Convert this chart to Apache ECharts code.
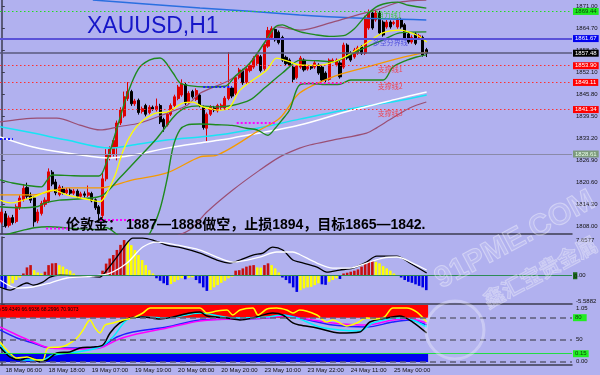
<!DOCTYPE html>
<html>
<head>
<meta charset="utf-8">
<script src="https://cdn.jsdelivr.net/npm/echarts@6/dist/echarts.min.js"></script>
<style>
html,body{margin:0;padding:0;background:#b1b1ef;}
#chart{width:600px;height:375px;}
</style>
</head>
<body>
<div id="chart"></div>
<script>
// ================= DATA =================
const slotCount = 159; // hourly bar slots across the plot width
const timeLabels = ['18 May 06:00','18 May 18:00','19 May 07:00','19 May 19:00','20 May 08:00','20 May 20:00','23 May 10:00','23 May 22:00','24 May 11:00','25 May 00:00'];
const timeLabelIdx = [1,13,25,37,49,61,73,85,97,109];

// candles: [open, close, low, high]
const candles = [
[1809.1,1812.0,1808.5,1813.0],[1811.5,1808.0,1807.5,1812.3],[1808.2,1810.3,1807.6,1811.0],[1810.4,1809.0,1808.4,1811.2],
[1809.3,1813.5,1808.8,1814.2],[1813.2,1816.0,1812.6,1816.8],[1815.6,1818.8,1815.0,1820.0],[1819.0,1816.5,1815.8,1820.4],
[1816.6,1815.4,1814.6,1817.6],[1816.0,1809.2,1807.8,1816.5],[1809.5,1812.0,1808.8,1812.8],[1811.6,1814.5,1811.0,1815.2],
[1814.2,1815.4,1813.5,1816.2],[1815.1,1823.5,1814.6,1824.5],[1823.4,1820.0,1819.4,1824.0],[1820.6,1817.5,1816.8,1821.4],
[1817.0,1819.2,1816.5,1819.8],[1818.6,1817.5,1817.0,1819.4],[1817.5,1818.3,1817.0,1818.9],[1818.3,1817.4,1816.9,1818.8],
[1817.4,1818.0,1816.9,1818.6],[1818.0,1816.5,1816.0,1818.5],[1816.5,1817.2,1816.0,1817.8],[1817.2,1816.8,1816.2,1817.9],
[1816.8,1817.5,1816.3,1819.6],[1817.3,1815.2,1814.8,1817.8],[1815.5,1813.2,1812.6,1815.9],[1813.5,1811.5,1809.5,1814.0],
[1811.0,1821.5,1810.2,1823.5],[1821.5,1828.5,1820.8,1830.0],[1827.5,1830.0,1826.8,1830.8],[1828.5,1832.5,1827.9,1833.2],
[1830.5,1837.5,1826.8,1838.2],[1837.5,1841.2,1836.9,1842.0],[1839.5,1845.0,1839.0,1846.5],[1844.5,1846.5,1843.8,1849.2],
[1846.5,1843.0,1842.4,1847.0],[1843.0,1843.8,1842.4,1844.4],[1844.0,1840.5,1839.9,1844.5],[1840.8,1841.6,1840.2,1842.2],
[1842.5,1840.0,1839.4,1843.0],[1840.5,1842.0,1840.0,1842.6],[1842.0,1841.5,1841.0,1842.5],[1841.3,1842.3,1840.8,1844.5],
[1842.5,1837.8,1837.2,1843.0],[1838.5,1836.5,1835.0,1839.0],[1837.0,1840.0,1836.5,1840.6],[1840.0,1842.5,1839.5,1843.1],
[1842.5,1845.0,1842.0,1845.6],[1844.5,1847.8,1844.0,1848.4],[1845.5,1848.7,1845.0,1850.0],[1848.5,1843.2,1842.6,1849.0],
[1843.5,1846.0,1843.0,1846.6],[1846.5,1845.0,1844.5,1847.0],[1844.2,1846.8,1843.8,1847.4],[1845.5,1842.5,1842.0,1846.0],
[1842.0,1836.2,1835.6,1842.5],[1836.0,1840.0,1832.3,1840.5],[1840.0,1842.0,1839.5,1842.6],[1841.8,1841.2,1840.6,1842.4],
[1841.0,1842.5,1840.5,1843.0],[1842.0,1842.6,1841.5,1843.1],[1841.8,1844.6,1841.3,1845.2],[1844.5,1847.5,1844.0,1857.8],
[1847.5,1845.2,1844.6,1848.0],[1846.0,1850.5,1845.5,1851.2],[1850.5,1852.7,1850.0,1853.3],[1852.5,1849.0,1848.4,1853.0],
[1849.2,1853.0,1848.7,1853.6],[1852.5,1854.0,1852.0,1854.6],[1853.5,1856.0,1853.0,1856.6],[1854.5,1857.0,1854.0,1857.6],
[1856.5,1852.5,1852.0,1857.0],[1853.0,1860.0,1852.5,1860.6],[1859.5,1864.0,1859.0,1865.0],[1862.0,1864.5,1861.5,1865.2],
[1864.3,1861.3,1860.8,1864.8],[1863.5,1860.5,1860.0,1864.0],[1862.0,1855.5,1855.0,1862.5],[1856.3,1854.5,1854.0,1856.8],
[1855.5,1854.0,1853.5,1856.0],[1853.5,1850.0,1849.0,1854.0],[1850.5,1853.8,1850.0,1854.4],[1853.5,1856.1,1853.0,1856.7],
[1855.5,1852.7,1852.2,1856.0],[1853.0,1853.6,1852.5,1854.2],[1853.6,1853.2,1852.7,1854.1],[1853.5,1854.7,1853.0,1855.3],
[1854.1,1851.8,1851.3,1854.6],[1853.5,1849.8,1849.3,1854.0],[1851.8,1849.8,1849.2,1852.3],[1850.0,1855.5,1849.6,1856.0],
[1855.2,1855.5,1854.7,1856.0],[1854.2,1855.5,1853.7,1856.0],[1854.7,1850.7,1850.2,1855.2],[1853.5,1859.8,1853.0,1860.5],
[1859.8,1856.1,1855.6,1860.3],[1857.5,1855.5,1855.0,1858.0],[1856.4,1858.4,1855.9,1859.0],[1857.5,1859.0,1857.0,1859.6],
[1859.3,1857.5,1857.0,1859.8],[1857.5,1867.6,1857.0,1868.2],[1864.7,1869.0,1864.2,1870.0],[1869.0,1864.7,1864.2,1869.6],
[1867.0,1869.0,1866.5,1869.8],[1869.0,1863.3,1862.8,1869.6],[1866.4,1862.7,1862.2,1866.9],[1865.0,1866.4,1864.5,1867.0],
[1866.4,1865.0,1864.5,1866.9],[1866.0,1866.3,1865.5,1866.8],[1865.0,1867.0,1864.5,1867.6],[1867.0,1865.0,1864.5,1867.5],
[1865.6,1861.8,1861.3,1866.1],[1863.0,1860.7,1860.2,1863.5],[1860.7,1862.0,1860.2,1862.6],[1863.0,1860.3,1859.8,1863.5],
[1861.8,1862.5,1861.3,1863.0],[1862.0,1857.0,1856.5,1862.5],[1858.5,1857.48,1856.4,1859.0]
];

// overlay indicator lines: [barIndex, price]
const bbUpper = [[-0.5,1821.2],[3,1820.3],[7,1819.6],[11,1819.2],[12.5,1821],[14,1822.6],[20,1822.4],[27,1822.3],[29,1826],[32,1836],[35,1846],[38,1853],[41,1855.5],[44,1856.1],[47.6,1851.8],[49.5,1849],[52,1848.2],[57,1847.8],[62,1848],[65,1851],[69,1854.7],[73,1860.5],[76,1865],[78,1865.6],[80,1864.8],[83,1863.6],[87,1862.8],[91,1862.3],[95,1862.5],[98,1864.5],[101,1868],[104,1870.7],[107,1871.8],[110,1872.1],[113,1871.2],[118,1870.4]];
const bbMiddle = [[-0.5,1813.5],[5,1813.2],[10,1813.6],[12,1814.6],[16,1815.4],[22,1815.8],[28,1816.8],[33,1822],[38,1827.5],[43,1833],[48,1839.5],[51,1841.8],[55,1842.4],[60,1842.1],[64,1842.5],[69,1844.1],[73,1847.5],[78,1851.8],[83,1855.5],[88,1855.3],[92,1855],[96.7,1857],[101.4,1859.3],[106,1861.3],[110.6,1863.3],[118,1863.6]];
const bbLower = [[-0.5,1805],[3,1806],[6,1806.8],[9,1807.5],[13,1807.8],[20,1807.3],[27,1807],[29,1807.5],[32,1805.6],[35,1803],[38,1802],[41.2,1806],[43.9,1812.6],[45.9,1821.2],[47.6,1830.6],[49.5,1835.5],[51.4,1836.9],[55,1837.2],[60,1837],[64,1836.8],[68,1836],[71,1835.5],[74,1834],[76,1836],[78,1838.5],[80,1841.2],[82.8,1848.4],[86,1848.8],[90,1848.5],[94,1848.6],[97,1849.8],[106,1849.8],[108.7,1853.5],[112.6,1855.5],[115.3,1856.4],[118,1857]];
const maYellow = [[-0.5,1815.4],[2.3,1814.6],[8.7,1816.3],[14.2,1818.3],[18.1,1816.9],[23,1815.8],[27.3,1815],[29,1817],[31.5,1822.5],[33.7,1829.5],[36.4,1835],[39.2,1838.2],[43.1,1840.4],[45.9,1840.6],[50.3,1843.2],[53.1,1843.5],[55.9,1842.1],[60.6,1841.2],[63.4,1842.1],[66.2,1846.9],[73.7,1852.7],[76.4,1856.1],[80.1,1855],[82.8,1854.1],[88,1854],[94.8,1856.1],[101.4,1860.4],[105.9,1863.3],[110.6,1864.1],[115.3,1862.7],[118.1,1860.7]];
const maOrange = [[-0.5,1816.9],[8.7,1816.9],[18.1,1818.9],[27.3,1818.9],[36.4,1821.2],[45.9,1823.2],[55.1,1827.8],[59.8,1828.3],[71.7,1835.5],[77.3,1838.9],[82.8,1846.1],[92,1850.7],[101.4,1853.5],[110.6,1856.1],[118.1,1857.8]];
const maCyan = [[-0.5,1836.4],[8.7,1834.6],[18.1,1832.6],[30.1,1830.3],[36.4,1831.2],[45.9,1832.6],[55.1,1833.5],[60.6,1834.1],[70,1835.8],[82.8,1838.6],[96.7,1841.5],[110,1843.8],[118.1,1845.5]];
const maWhite = [[-0.5,1833.5],[8.7,1830.6],[18.1,1828.9],[30.1,1827.5],[36.4,1828.3],[45.9,1830.3],[55.1,1831.8],[60.6,1832.6],[64.2,1833.2],[82.8,1836.9],[96.7,1841],[110,1844.4],[118.1,1846.4]];
const envUpper = [[-0.5,1837.8],[9.8,1838.9],[15.3,1838.9],[21.7,1836.9],[27.3,1835.5],[32.8,1836.5],[38.4,1837.5],[46.7,1840.6],[51.4,1842.5],[55.1,1846],[63.4,1849.8],[68,1853.5],[73.7,1861.3],[76.4,1865],[82.8,1864.1],[92,1866.4],[98.7,1868.4],[104.2,1869.9],[110.6,1872.1],[118,1872.7]];
const envLower = [[46.7,1804.6],[52.3,1806.9],[57,1812],[64.2,1818.3],[71.7,1824],[77.3,1827.8],[82.8,1830.3],[85.6,1831.2],[92,1832.6],[101.4,1834.6],[104.2,1836.1],[107.8,1838.4],[113.4,1841.8],[118,1843.5]];
const maBlue = [[25.3,1872.7],[40,1871.6],[55.1,1870.4],[70,1869.4],[82.8,1868.4],[96.7,1867.6],[118,1867]];
// dotted pivot segments: [startIndex, endIndex, price]
const pivotBlue = [[-0.5,3.1,1832.9],[56,64,1847.8]];
const pivotMagenta = [[12.3,19,1807.3],[27.3,38.4,1809.7],[65.3,76.4,1837.5],[82.8,94.8,1848.9]];

// horizontal levels
const levelValues = [1869.44, 1861.67, 1857.48, 1853.90, 1849.11, 1841.34, 1828.61];
const levelNames = ['阻力线1','多空分界线','','支撑线1','支撑线2','支撑线3',''];
const levelNameIdx = [104.2,103.1,0,104.5,104.5,104.5,0];
const priceTicks = [1808.00,1814.30,1820.60,1826.90,1833.20,1839.50,1845.80,1852.10,1858.40,1864.70,1871.00];

// MACD histogram (one value per bar) and lines
const macdHist = [
-2.2,-2.6,-1.85,-1.5,-0.85,-0.35,0.45,1.65,2.1,1.1,0.65,0.45,0.8,2.1,2.45,2.5,2.1,1.8,1.3,1.0,
0.45,0.15,0.05,-0.05,0.05,-0.1,-0.15,-0.1,1.0,2.4,3.4,4.1,5.1,6.1,7.05,6.7,6.05,5.1,4.1,3.1,
2.1,1.1,0.45,-0.5,-1.0,-1.5,-1.85,-1.65,-1.2,-0.85,-0.5,-0.7,-0.4,-0.3,-0.85,-1.5,-2.3,-3.0,-2.8,-2.3,
-1.85,-1.4,-1.0,-0.5,-0.2,1.0,1.1,1.45,1.8,2.0,2.1,1.65,1.6,2.1,2.45,2.1,1.45,0.65,-0.35,-0.85,
-1.5,-2.3,-3.2,-2.85,-2.5,-2.3,-2.2,-1.85,-1.5,-1.7,-1.8,-1.2,-0.85,-0.5,-0.65,0.45,0.6,0.8,1.0,1.25,
1.8,2.45,2.8,2.9,2.75,2.45,1.9,1.45,1.0,0.45,0.15,-0.35,-0.85,-1.2,-1.4,-1.7,-2.0,-2.3,-2.85
];
const macdMain = [[-0.5,-2.23],[2.3,-2.83],[7,-1.44],[8.7,-1.84],[11.4,-1.25],[13.4,-0.26],[16.2,0.14],[22.6,-0.06],[27.3,-0.26],[29.2,1.13],[32,3.7],[34.8,6.46],[36.4,7.45],[39.2,7.45],[42,7.06],[45.9,6.07],[50.3,5.48],[55.1,4.49],[59.8,3.1],[63.4,2.51],[66.2,3.1],[69.8,4.09],[72.6,4.49],[75.3,5.67],[78.1,5.08],[80.9,3.1],[82.8,2.71],[87.6,1.72],[90.3,0.73],[93.9,1.13],[97.6,1.52],[101.4,2.71],[104.2,3.89],[109.8,3.89],[113.4,2.51],[118.1,0.53]];
const macdSignal = [[-0.5,-0.85],[4.2,-2.43],[8.7,-2.23],[13.4,-1.44],[18.1,-0.45],[25.3,-0.06],[30.1,0.53],[34.8,2.51],[39.2,5.67],[43.1,6.66],[48.7,6.07],[55.1,5.08],[59.8,3.7],[64.2,2.71],[71.7,3.7],[76.4,4.69],[80.9,4.69],[82.8,4.2],[87.6,2.51],[92,1.52],[96.7,1.52],[101.4,2.51],[105.9,3.5],[109.8,3.7],[114.2,2.51],[118.1,1.13]];
const macdMin = -5.5882, macdMax = 7.6577;

// oscillator pane lines
const oscYellow = [[-0.5,46.9],[1.4,36],[4.2,25],[7,26.4],[9.8,22.3],[11.4,22.3],[12.8,38.7],[16.2,40],[18.1,42.8],[20.9,52.3],[22.6,63.2],[24.5,76.9],[25.9,66],[27.3,59.2],[28.7,70],[30.9,72.8],[33.7,76.9],[36.4,79.6],[39.2,86.4],[41.2,93.2],[55.1,93.2],[57,86.4],[59.8,89],[62.6,90.5],[64.2,83.7],[66.2,90.5],[69.8,93.2],[71.2,83.7],[73.7,91.8],[76.4,93.2],[79.2,90.5],[80.9,86.4],[82.8,90.5],[87.6,83.7],[90.3,74.1],[92,76.9],[95.9,68.7],[98.7,72.8],[101.4,79.6],[104.2,78.2],[106.4,81],[108.7,93.2],[112.6,93.2],[115.3,87.8],[118.1,74.1]];
const oscBlack = [[-0.5,40],[2.3,26.4],[5.1,22.3],[7.8,26.4],[10.6,19.5],[12.6,22.3],[15.3,31.9],[18.9,33.3],[21.7,38.7],[25.3,40],[28.1,42.8],[30.1,59.2],[32.8,72.8],[35.6,79.6],[39.2,81],[43.9,78.2],[47.6,81],[52.3,86.4],[55.1,87.8],[57,82.3],[62.6,79.6],[66.2,76.9],[69.8,79.6],[75.3,86.4],[78.1,83.7],[80.9,72.8],[82.8,70],[87.6,66],[93.9,59.2],[99.5,60.5],[102.3,74.1],[107,79.6],[110.6,82.3],[114.2,74.1],[118.1,59.2]];
const oscCyan = [[-0.5,42.8],[3.1,25],[7,22.3],[11.4,22.3],[14.2,29.1],[20.9,33.3],[27.3,40],[30.9,53.7],[34.8,76.9],[39.2,81],[45.9,79.6],[55.1,86.4],[64.2,79.6],[73.7,81],[78.1,83.7],[82.8,78.2],[88.4,67.3],[93.9,63.2],[99.5,61.9],[103.1,72.8],[110.6,79.6],[114.2,76.9],[118.1,67.3]];
const oscBlue = [[-0.5,63.2],[4.2,52.3],[8.7,45.5],[13.4,38.7],[22.6,38.7],[27.3,40],[32,53.7],[36.4,60.5],[45.9,67.3],[55.1,76.9],[64.2,78.2],[73.7,79.6],[78.1,83.7],[82.8,79.6],[92,70],[101.4,67.3],[108.7,74.1],[113.4,76.9],[118.1,70]];
const oscMagenta = [[-0.5,67.3],[4.2,56.4],[8.7,46.9],[13.4,38.7],[22.6,37.3],[27.3,38.7],[32,49.6],[36.4,56.4],[45.9,66],[55.1,75.5],[64.2,78.2],[73.7,79.6],[78.1,82.3],[82.8,79.6],[92,72.8],[101.4,70],[108.7,76.9],[113.4,78.2],[118.1,72.8]];
const oscMin = 15.5, oscMax = 97.3;
const oscLevels = [80, 50, 20];
const oscBandHigh = [80, 97.3];
const oscBandLow = [19.5, 30.5];
const oscGreenLevel = 30.9;

// ================= BUILD =================
const FONT = '"Liberation Sans", Arial, sans-serif';
const CJK = '"Noto Sans CJK SC", sans-serif';
const chart = echarts.init(document.getElementById('chart'), null, {renderer:'canvas', width:600, height:375});
const slots = Array.from({length: slotCount}, (_, i) => String(i));
const lastIdx = candles.length - 1;

const gridDefs = [
  {left:0, right:28, top:0, height:234, outerBoundsMode:'none', containLabel:false},
  {left:0, right:28, top:237, height:67, outerBoundsMode:'none', containLabel:false},
  {left:0, right:28, top:305, height:60, outerBoundsMode:'none', containLabel:false}
];
const axisCol = '#3c3c50';
function catAxis(g, withLabels) {
  return {type:'category', gridIndex:g, data:slots, boundaryGap:true,
    axisLine:{show:true, onZero:false, lineStyle:{color:axisCol, width:1.5}},
    axisTick:{show:false}, splitLine:{show:false},
    axisLabel: withLabels ? {show:true, interval:(idx)=>timeLabelIdx.indexOf(idx) >= 0,
      formatter:(v, idx)=>{const k = timeLabelIdx.indexOf(Number(v)); return k >= 0 ? timeLabels[k] : '';},
      align:'left', fontSize:6, color:'#111', margin:2, fontFamily:FONT} : {show:false}};
}
function valAxisX(g) {
  return {type:'value', gridIndex:g, min:-0.5, max:slotCount - 0.5, show:false};
}
const xAxes = [catAxis(0,false), valAxisX(0), catAxis(1,false), valAxisX(1), catAxis(2,true), valAxisX(2)];

const yAxes = [
  {type:'value', gridIndex:0, position:'right', min:1805.707, max:1872.718,
    axisLine:{show:true, lineStyle:{color:axisCol, width:1.5}},
    axisTick:{show:true, length:3, customValues:priceTicks, lineStyle:{color:axisCol}},
    axisLabel:{show:true, customValues:priceTicks, formatter:v=>Number(v).toFixed(2), fontSize:6, color:'#111', margin:4, fontFamily:FONT},
    splitLine:{show:false}},
  {type:'value', gridIndex:1, position:'right', min:macdMin, max:macdMax,
    axisLine:{show:true, lineStyle:{color:axisCol, width:1.5}},
    axisTick:{show:true, length:3, customValues:[macdMin, macdMax], lineStyle:{color:axisCol}},
    axisLabel:{show:true, customValues:[macdMin, macdMax], formatter:v=>Number(v).toFixed(4), fontSize:6, color:'#111', margin:4, fontFamily:FONT,
      verticalAlignMinLabel:'bottom', verticalAlignMaxLabel:'top'},
    splitLine:{show:false}},
  {type:'value', gridIndex:2, position:'right', min:oscMin, max:oscMax,
    axisLine:{show:true, lineStyle:{color:axisCol, width:1.5}},
    axisTick:{show:true, length:3, customValues:[20,50,oscMax], lineStyle:{color:axisCol}},
    axisLabel:{show:true, customValues:[20,50,oscMax], formatter:v=>{v=Number(v); return v===20?'0.00':(v===50?'50':'1.05');}, fontSize:6, color:'#111', margin:4, fontFamily:FONT,
      verticalAlignMaxLabel:'top'},
    splitLine:{show:false}}
];

function lineS(data, color, width, xi, yi, extra) {
  return Object.assign({type:'line', xAxisIndex:xi, yAxisIndex:yi, data:data, symbol:'none', smooth:0.3,
    silent:true, animation:false, lineStyle:{color:color, width:width}, z:3}, extra || {});
}

// level lines
const levelLineColor = ['#22dd22','#5a52d8','#5a5a7c','#ff3030','#ff3030','#ff3030','#8a8aa8'];
const levelLineType = [[1.5,2.5],'solid','solid',[1.5,2.5],[1.5,2.5],[1.5,2.5],'solid'];
const levelLineWidth = [1,2,1.5,1,1,1,1];
const levelBoxColor = ['#1ee81e','#0000ee','#000000','#ff0000','#ff0000','#ff0000','#7d9a7d'];
const levelBoxText = ['#0a3a0a','#ffffff','#ffffff','#ffffff','#ffffff','#ffffff','#e8ffe8'];
const levelNameColor = ['#22c822','#3a3ad8','#000','#ff2a2a','#ff2a2a','#ff2a2a','#000'];
const levelMarks = levelValues.map((v,k)=>({
  yAxis:v,
  lineStyle:{color:levelLineColor[k], type:levelLineType[k], width:levelLineWidth[k]},
  label:{show:true, position:'end', distance:1, formatter:v.toFixed(2), backgroundColor:levelBoxColor[k],
    color:levelBoxText[k], fontSize:6, fontFamily:FONT, padding:[1,2,0,2]}
}));
const levelNameData = [];
levelValues.forEach((v,k)=>{ if (levelNames[k]) levelNameData.push({name:levelNames[k], value:[levelNameIdx[k], v], label:{color:levelNameColor[k]}}); });

const series = [];
series.push({type:'candlestick', xAxisIndex:0, yAxisIndex:0, data:candles, barWidth:2.6, animation:false, silent:true, z:2,
  itemStyle:{color:'#e00000', color0:'#000000', borderColor:'#e00000', borderColor0:'#000000', borderWidth:1},
  markLine:{symbol:['none','none'], silent:true, animation:false, data:levelMarks}});

series.push(lineS(maBlue, '#2a6fe0', 1.5, 1, 0));
series.push(lineS(maCyan, '#18e4f4', 1.5, 1, 0));
series.push(lineS(maWhite, '#ffffff', 1.5, 1, 0));
series.push(lineS(envUpper, '#9a4f74', 1.2, 1, 0));
series.push(lineS(envLower, '#9a4f74', 1.2, 1, 0));
series.push(lineS(maOrange, '#f59a00', 1.3, 1, 0));
series.push(lineS(bbUpper, '#1e8a1e', 1.4, 1, 0));
series.push(lineS(bbMiddle, '#1e8a1e', 1.4, 1, 0));
series.push(lineS(bbLower, '#1e8a1e', 1.4, 1, 0));
series.push(lineS(maYellow, '#ffff00', 1.3, 1, 0));
pivotBlue.forEach(p=>series.push(lineS([[p[0],p[2]],[p[1],p[2]]], '#1a1aff', 2, 1, 0, {smooth:false, lineStyle:{color:'#1a1aff', width:2, type:[2,2]}})));
pivotMagenta.forEach(p=>series.push(lineS([[p[0],p[2]],[p[1],p[2]]], '#ff00ff', 2, 1, 0, {smooth:false, lineStyle:{color:'#ff00ff', width:2, type:[2,2]}})));

series.push({type:'scatter', xAxisIndex:1, yAxisIndex:0, symbolSize:0, silent:true, animation:false, z:6, data:levelNameData,
  label:{show:true, position:[0,0], align:'left', verticalAlign:'top', formatter:p=>p.name, fontSize:7, fontFamily:CJK}});

// MACD
const histData = macdHist.map((v,i)=>{
  const prev = i > 0 ? macdHist[i-1] : 0;
  let c;
  if (v >= 0) c = (v >= prev) ? '#c80f0f' : '#ffff00';
  else c = (v <= prev) ? '#0000e6' : '#ffff00';
  return {value:v, itemStyle:{color:c}};
});
series.push({type:'bar', xAxisIndex:2, yAxisIndex:1, data:histData, barWidth:2.6, silent:true, animation:false, z:2,
  markLine:{symbol:['none','none'], silent:true, animation:false, data:[{yAxis:0,
    lineStyle:{color:'#2e8b57', width:1, type:'solid'},
    label:{show:true, position:'end', distance:1, formatter:'{g|0}{t|.00}', rich:{g:{backgroundColor:'#1c6a1c', color:'#0a2a0a', fontSize:6, fontFamily:FONT, padding:[1,0,0,1]}, t:{color:'#111', fontSize:6, fontFamily:FONT}}}}]}});
series.push(lineS(macdMain, '#000000', 1.3, 3, 1));
series.push(lineS(macdSignal, '#ffffff', 1.3, 3, 1));

// Oscillator pane
series.push({type:'line', xAxisIndex:5, yAxisIndex:2, data:[], silent:true, animation:false, z:1,
  markArea:{silent:true, data:[
    [{coord:[-0.5, oscBandHigh[0]], itemStyle:{color:'#ff0000', opacity:1}}, {coord:[lastIdx+0.5, oscBandHigh[1]]}],
    [{coord:[-0.5, oscBandLow[0]], itemStyle:{color:'#0000f0', opacity:1}}, {coord:[lastIdx+0.5, oscBandLow[1]]}]
  ]},
  markLine:{symbol:['none','none'], silent:true, animation:false, data:[
    {yAxis:oscGreenLevel, lineStyle:{color:'#22dd44', width:1, type:'solid'},
      label:{show:true, position:'end', distance:1, formatter:'0.15', backgroundColor:'#22ee22', color:'#0a3a0a', fontSize:6, fontFamily:FONT, padding:[1,2,0,2]}},
    {yAxis:oscLevels[0], lineStyle:{color:'#5c5c78', width:1.5, type:[6,4]},
      label:{show:true, position:'end', distance:1, formatter:'80', backgroundColor:'#22ee22', color:'#0a3a0a', fontSize:6, fontFamily:FONT, padding:[1,5,0,2]}},
    {yAxis:oscLevels[1], lineStyle:{color:'#5c5c78', width:1.5, type:[6,4]}, label:{show:false}},
    {yAxis:oscLevels[2], lineStyle:{color:'#5c5c78', width:1.5, type:[6,4]}, label:{show:false}}
  ]}});
series.push(lineS(oscBlue, '#2020ff', 1.5, 5, 2, {z:4}));
series.push(lineS(oscMagenta, '#ff00ff', 1.5, 5, 2, {z:4}));
series.push(lineS(oscCyan, '#00f0ff', 1.5, 5, 2, {z:4}));
series.push(lineS(oscBlack, '#000000', 1.5, 5, 2, {z:4}));
series.push(lineS(oscYellow, '#ffff00', 1.5, 5, 2, {z:4}));

const graphic = [
  {type:'text', x:87, y:27, z:50, style:{text:'XAUUSD,H1', font:'23px ' + FONT, fill:'#1616c8', verticalAlign:'middle', align:'left'}},
  {type:'text', x:66, y:225, z:50, style:{text:'伦敦金： 1887—1888做空，止损1894，目标1865—1842.', font:'bold 14px "Liberation Sans", "Noto Sans CJK SC", sans-serif', fill:'#000000', verticalAlign:'middle', align:'left'}},
  {type:'text', x:-1, y:310, z:50, style:{text:') 59.4349 66.6936 68.2996 70.9073', font:'5px ' + FONT, fill:'#000000', verticalAlign:'middle', align:'left'}},
  {type:'text', x:515, y:240, rotation:0.49, z:60, style:{text:'91PME.COM', font:'bold 30px ' + FONT, fill:'rgba(255,255,255,0.12)', stroke:'rgba(255,255,255,0.38)', lineWidth:1, align:'center', verticalAlign:'middle'}},
  {type:'text', x:540, y:272, rotation:0.49, z:60, style:{text:'鑫汇宝贵金属', font:'bold 21px ' + CJK, fill:'rgba(255,255,255,0.12)', stroke:'rgba(255,255,255,0.35)', lineWidth:1, align:'center', verticalAlign:'middle'}},
  {type:'circle', shape:{cx:455, cy:330, r:29}, z:60, style:{fill:'rgba(255,255,255,0.06)', stroke:'rgba(255,255,255,0.3)', lineWidth:3}}
];

chart.setOption({
  animation:false,
  backgroundColor:'#b1b1ef',
  grid:gridDefs,
  xAxis:xAxes,
  yAxis:yAxes,
  series:series,
  graphic:graphic
});
</script>
</body>
</html>
